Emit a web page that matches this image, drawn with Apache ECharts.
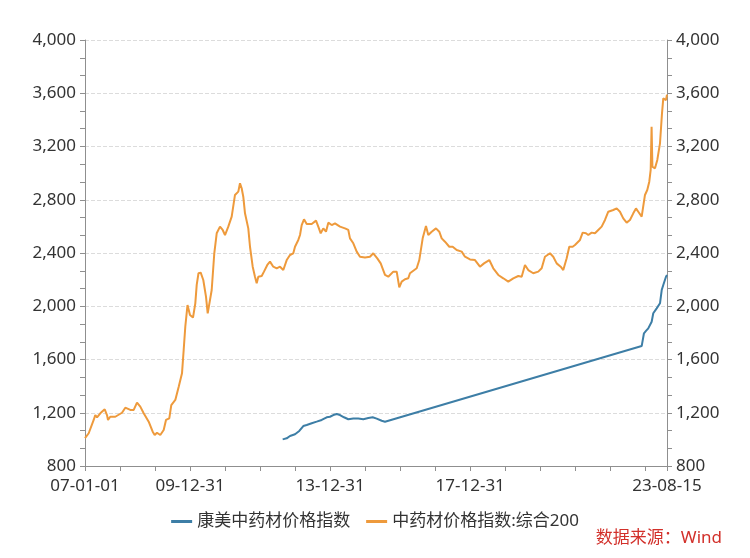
<!DOCTYPE html>
<html>
<head>
<meta charset="utf-8">
<script src="https://cdn.jsdelivr.net/npm/echarts@6/dist/echarts.min.js"></script>
<style>
html,body{margin:0;padding:0;background:#fff;}
#chart{width:750px;height:558px;}
</style>
</head>
<body>
<div id="chart"></div>
<script>
// Orange series: 中药材价格指数:综合200 (x in decimal years)
const orangeYears = [
2007.000,2007.106,2007.248,2007.294,2007.343,2007.437,2007.563,2007.628,2007.657,2007.722,
2007.865,2008.057,2008.151,2008.294,2008.391,2008.485,2008.579,2008.676,2008.819,2008.933,
2008.990,2009.056,2009.150,2009.247,2009.313,2009.407,2009.464,2009.579,2009.676,2009.770,
2009.818,2009.864,2009.927,2009.998,2010.084,2010.150,2010.190,2010.241,2010.304,2010.378,
2010.455,2010.504,2010.549,2010.618,2010.692,2010.761,2010.855,2010.932,2010.998,2011.092,
2011.189,2011.283,2011.332,2011.378,2011.426,2011.474,2011.520,2011.569,2011.663,2011.712,
2011.789,2011.854,2011.903,2011.949,2012.046,2012.111,2012.206,2012.283,2012.377,2012.474,
2012.568,2012.663,2012.760,2012.854,2012.948,2012.997,2013.091,2013.140,2013.188,2013.254,
2013.331,2013.474,2013.597,2013.662,2013.731,2013.805,2013.882,2013.948,2014.045,2014.139,
2014.282,2014.424,2014.519,2014.567,2014.662,2014.759,2014.853,2014.995,2015.138,2015.232,
2015.347,2015.444,2015.567,2015.661,2015.804,2015.901,2015.975,2016.044,2016.138,2016.232,
2016.280,2016.366,2016.472,2016.546,2016.643,2016.737,2016.803,2016.900,2017.023,2017.117,
2017.186,2017.280,2017.403,2017.500,2017.614,2017.757,2017.851,2017.994,2018.137,2018.279,
2018.394,2018.545,2018.659,2018.802,2018.945,2019.087,2019.230,2019.373,2019.470,2019.564,
2019.658,2019.801,2019.944,2020.041,2020.135,2020.278,2020.372,2020.469,2020.584,2020.658,
2020.755,2020.829,2020.926,2020.992,2021.135,2021.212,2021.306,2021.372,2021.469,2021.563,
2021.657,2021.754,2021.849,2021.943,2022.086,2022.183,2022.277,2022.371,2022.468,2022.562,
2022.657,2022.734,2022.800,2022.897,2022.943,2022.991,2023.056,2023.114,2023.154,2023.180,
2023.203,2023.277,2023.343,2023.420,2023.477,2023.514,2023.562,2023.591,2023.620
];
const orangeValues = [
1010,1046,1146,1183,1165,1196,1226,1183,1146,1170,
1170,1200,1238,1221,1221,1276,1246,1196,1133,1058,
1033,1050,1033,1070,1146,1158,1258,1296,1396,1496,
1671,1846,2009,1935,1915,2022,2160,2248,2252,2197,
2072,1947,1960,2122,2398,2548,2598,2573,2535,2598,
2673,2836,2849,2861,2924,2886,2823,2698,2585,2447,
2297,2222,2172,2222,2227,2260,2310,2335,2297,2285,
2297,2272,2347,2385,2398,2447,2498,2535,2610,2653,
2618,2618,2643,2598,2548,2585,2560,2628,2610,2623,
2598,2585,2573,2510,2473,2410,2372,2367,2372,2398,
2360,2322,2235,2222,2260,2260,2142,2185,2203,2210,
2248,2265,2285,2347,2510,2603,2535,2560,2585,2560,
2510,2485,2447,2447,2422,2410,2372,2352,2347,2297,
2322,2347,2285,2235,2210,2185,2210,2227,2222,2310,
2272,2248,2260,2285,2372,2398,2372,2322,2297,2272,
2360,2447,2447,2460,2498,2553,2548,2535,2553,2548,
2573,2598,2648,2710,2723,2735,2710,2660,2628,2648,
2698,2735,2710,2673,2670,2836,2873,2936,3024,3349,
3049,3036,3099,3224,3449,3562,3574,3549,3590
];
// Blue series: 康美中药材价格指数
const blueYears = [
2012.645,2012.760,2012.854,2012.997,2013.119,2013.234,2013.331,2013.474,2013.616,2013.759,
2013.902,2013.996,2014.090,2014.187,2014.282,2014.396,2014.519,2014.662,2014.804,2014.947,
2015.090,2015.215,2015.330,2015.472,2015.567,2022.897,2022.943,2022.962,2023.020,2023.085,
2023.182,2023.228,2023.325,2023.420,2023.469,2023.514,2023.591,2023.620
];
const blueValues = [
1000,1008,1025,1038,1063,1100,1108,1121,1133,1146,
1166,1170,1183,1191,1183,1166,1151,1156,1156,1151,
1161,1166,1156,1140,1133,1701,1709,1797,1815,1834,
1884,1947,1984,2022,2122,2160,2222,2235
];
const xTickValues = [2007, 2010, 2014, 2018, 2023.62];
const xTickLabels = ['07-01-01', '09-12-31', '13-12-31', '17-12-31', '23-08-15'];
const seriesNames = ['康美中药材价格指数', '中药材价格指数:综合200'];
const sourceText = '数据来源：Wind';

const zip = (xs, ys) => xs.map((x, i) => [x, ys[i]]);
const FONT = "'Noto Sans', 'Noto Sans CJK SC', sans-serif";
const AXIS_COLOR = '#8f8f8f';
const fmtThousands = v => String(v).replace(/\B(?=(\d{3})+(?!\d))/g, ',');

const chart = echarts.init(document.getElementById('chart'), null, {renderer: 'canvas'});
const yCommon = {
  type: 'value', min: 800, max: 4000, interval: 400,
  axisLine: {show: true, lineStyle: {color: AXIS_COLOR, width: 1}},
  axisTick: {show: true, length: 5, lineStyle: {color: AXIS_COLOR}},
  minorTick: {show: true, splitNumber: 3, length: 5, lineStyle: {color: AXIS_COLOR}},
  axisLabel: {color: '#333', fontSize: 17, fontFamily: FONT, margin: 9, formatter: fmtThousands}
};
chart.setOption({
  animation: false,
  backgroundColor: '#fff',
  grid: {left: 85, right: 83, top: 40, bottom: 92, containLabel: false},
  legend: {
    data: seriesNames,
    left: 'center', top: 508,
    icon: 'rect', itemWidth: 21, itemHeight: 3, itemGap: 16,
    textStyle: {color: '#333', fontSize: 17, fontFamily: FONT}
  },
  graphic: [{
    type: 'text', right: 28, top: 530,
    style: {text: sourceText, fill: '#d2302a', fontSize: 17, fontFamily: FONT}
  }],
  xAxis: {
    type: 'value', min: 2007, max: 2023.62, interval: 1,
    splitLine: {show: false},
    axisLine: {show: true, lineStyle: {color: AXIS_COLOR}},
    axisTick: {show: true, length: 5, lineStyle: {color: AXIS_COLOR}},
    axisLabel: {
      color: '#333', fontSize: 17, fontFamily: FONT, margin: 12,
      showMinLabel: true, showMaxLabel: true, hideOverlap: false,
      formatter: v => {
        for (let i = 0; i < xTickValues.length; i++) {
          if (Math.abs(v - xTickValues[i]) < 0.01) return xTickLabels[i];
        }
        return '';
      }
    }
  },
  yAxis: [
    Object.assign({}, yCommon, {position: 'left',
      splitLine: {show: true, lineStyle: {color: '#dcdcdc', type: 'dashed', width: 1}}}),
    Object.assign({}, yCommon, {position: 'right', splitLine: {show: false}})
  ],
  series: [
    {name: seriesNames[0], type: 'line', yAxisIndex: 1, data: zip(blueYears, blueValues),
     showSymbol: false, symbol: 'none', color: '#3d7ea6', lineStyle: {width: 2, color: '#3d7ea6'}, z: 3},
    {name: seriesNames[1], type: 'line', yAxisIndex: 0, data: zip(orangeYears, orangeValues),
     showSymbol: false, symbol: 'none', color: '#ee9a3c', lineStyle: {width: 2, color: '#ee9a3c'}, z: 2}
  ]
});
</script>
</body>
</html>
